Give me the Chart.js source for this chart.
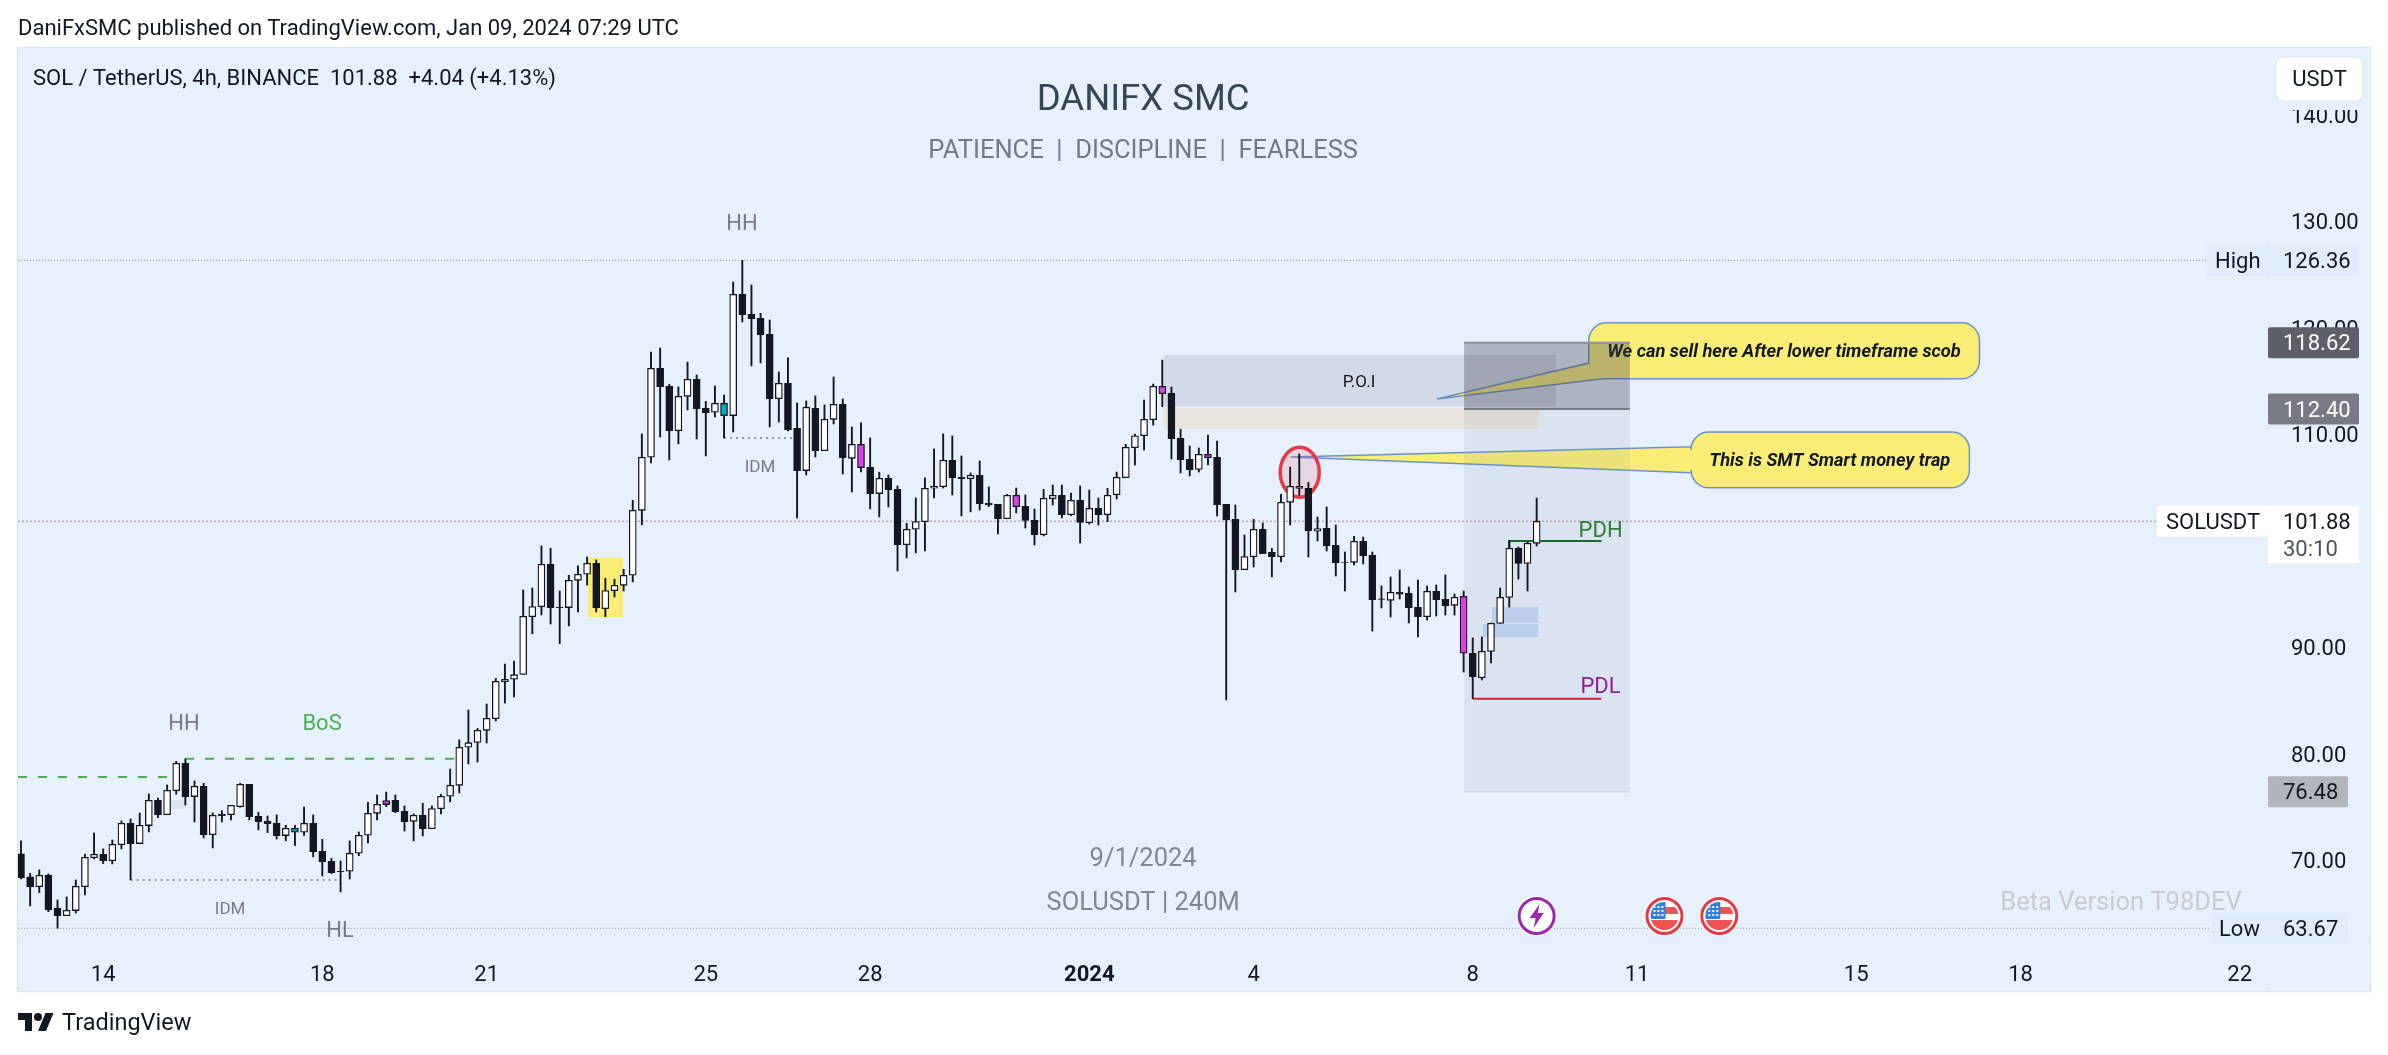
<!DOCTYPE html>
<html><head><meta charset="utf-8">
<script src="https://cdn.jsdelivr.net/npm/chart.js@4"></script>
<style>
html,body{margin:0;padding:0;background:#fff;width:2388px;height:1055px;overflow:hidden;font-family:Roboto,sans-serif;color:#131722}
canvas{position:absolute;left:0;top:0}
.t{position:absolute;white-space:pre;line-height:1}
</style></head><body>
<canvas id="c" width="2388" height="1055"></canvas>
<div class="t" style="left:18px;top:17px;font-size:22px">DaniFxSMC published on TradingView.com, Jan 09, 2024 07:29 UTC</div>
<svg style="position:absolute;left:18px;top:1009px" width="36" height="28" viewBox="0 0 36 28"><path fill="#131722" d="M14 22H7V11H0V4h14v18zM28 22h-8l7.5-18h8L28 22z"/><circle fill="#131722" cx="20" cy="8" r="4"/></svg>
<div class="t" style="left:62px;top:1011px;font-size:23.5px">TradingView</div>
<script>
const opens=[70.65,68.49,67.58,68.67,65.55,64.86,65.33,67.58,70.30,70.62,70.02,71.52,73.52,71.62,73.31,75.68,74.34,76.59,79.15,76.03,77.00,72.46,74.40,74.34,75.09,77.18,74.18,73.71,73.52,72.37,72.68,72.68,73.52,70.90,69.96,69.02,69.02,70.71,72.40,74.46,75.28,75.68,74.65,73.71,74.27,73.02,74.90,76.06,77.09,80.66,81.12,82.25,83.35,86.81,87.04,87.50,92.92,93.86,97.83,93.80,
93.77,96.33,96.90,97.93,93.67,95.36,95.86,96.80,102.90,107.88,116.23,114.54,110.38,113.60,115.19,112.47,112.10,111.79,111.79,123.17,121.29,120.92,119.42,113.38,114.82,110.60,106.63,112.47,108.50,111.44,112.85,107.78,109.09,106.94,104.47,105.91,104.87,99.68,101.12,101.84,104.97,105.12,107.59,106.00,105.87,106.18,103.55,103.46,102.11,104.30,103.27,101.96,100.61,103.99,104.30,102.49,103.83,101.74,103.08,102.49,104.37,105.96,108.77,109.90,111.40,114.53,113.88,109.65,107.68,106.74,108.15,107.87,103.46,102.05,97.33,98.55,101.11,98.95,98.55,103.65,105.15,104.96,100.93,101.21,99.61,98.05,98.02,99.99,98.67,94.58,94.45,95.20,95.11,93.79,92.92,95.29,94.54,93.98,94.83,89.48,87.19,89.66,92.29,94.73,99.33,97.92,99.80];
const highs=[71.87,68.83,69.15,68.77,66.33,66.61,68.21,70.62,72.62,71.12,71.96,73.74,73.93,74.49,76.28,75.90,77.12,79.34,79.56,77.50,77.28,74.49,74.71,75.21,77.28,77.18,74.56,74.21,74.31,73.34,73.34,75.06,74.31,72.02,70.24,69.99,71.87,72.71,75.49,76.18,76.46,76.18,75.15,74.40,75.40,75.15,76.25,78.62,81.35,84.16,82.44,84.72,87.13,88.47,88.75,95.42,95.61,99.55,99.34,95.33,
96.80,97.68,98.52,98.24,96.52,96.43,97.37,103.84,110.07,117.76,118.14,114.73,114.48,116.82,115.60,113.13,114.57,113.72,124.33,126.36,124.05,121.39,120.76,115.88,117.20,112.97,113.16,113.63,112.79,115.41,113.35,110.72,111.10,109.69,106.47,106.22,105.19,101.68,104.06,105.94,108.66,110.07,109.88,108.00,106.40,107.53,105.09,103.46,104.40,104.99,104.34,103.02,104.87,105.27,105.27,104.52,105.18,104.80,104.05,104.96,106.49,109.09,110.05,113.25,114.75,117.00,114.47,110.50,108.93,108.75,109.97,109.40,103.46,103.40,100.58,102.05,101.71,99.33,104.40,106.96,108.18,105.52,102.27,103.21,101.52,98.99,100.46,100.39,98.99,95.80,96.64,97.30,95.70,96.36,95.80,95.89,96.83,95.04,95.33,90.92,91.01,92.32,95.61,100.08,99.46,99.92,104.05];
const lows=[68.30,65.77,67.02,65.23,63.67,64.86,65.11,66.80,70.18,69.74,69.71,71.12,68.21,71.62,72.71,74.06,74.34,76.25,75.24,73.65,72.15,71.21,73.65,73.84,75.03,73.84,72.90,72.65,72.05,71.87,71.43,72.37,70.37,68.58,68.80,67.08,68.30,70.49,71.68,73.84,75.09,74.52,72.80,71.87,72.34,73.02,74.40,75.53,76.37,79.09,79.28,81.06,83.13,84.81,85.38,87.50,91.32,93.08,92.23,90.38,
92.05,93.36,95.89,93.36,92.92,94.77,95.33,96.18,101.53,107.34,109.78,107.63,109.13,112.32,109.60,108.00,111.66,109.69,110.25,120.58,116.45,116.73,110.72,111.19,110.35,102.18,106.22,107.91,108.50,111.00,106.31,104.62,106.50,103.03,102.28,103.21,97.21,98.43,98.90,99.09,104.06,104.99,104.34,102.37,102.75,102.93,103.24,100.68,102.11,102.65,101.24,99.64,100.49,103.40,102.18,102.40,99.83,101.61,101.52,101.83,103.96,105.96,107.15,108.56,110.90,112.62,107.71,106.40,106.12,106.49,107.15,102.36,85.10,95.23,97.33,97.58,98.83,96.64,98.05,101.52,104.30,98.52,100.02,99.08,96.73,95.33,97.77,97.86,91.57,93.73,92.89,94.58,92.32,91.01,92.60,92.98,93.07,93.07,87.72,85.22,86.97,88.57,92.29,93.82,96.45,95.33,99.55];
const closes=[68.39,67.55,68.64,65.39,64.86,65.36,67.61,70.33,70.62,70.02,71.55,73.52,71.62,73.34,75.68,74.34,76.62,79.15,76.03,77.00,72.46,74.27,74.24,75.21,77.18,74.15,73.68,73.49,72.37,73.06,73.06,73.52,70.87,69.93,68.90,68.99,70.71,72.40,74.46,75.31,75.65,74.62,73.68,74.27,73.02,74.90,76.06,77.09,80.66,81.09,82.25,83.38,86.85,87.04,87.47,92.95,93.86,97.83,93.77,93.77,
96.33,96.90,97.93,93.77,95.36,95.86,96.80,102.90,107.88,116.23,114.51,110.38,113.60,115.19,112.44,112.07,112.94,112.94,123.17,121.26,120.89,119.36,113.38,114.82,110.44,106.63,112.57,108.50,111.44,112.85,107.84,109.09,106.91,104.47,105.91,104.84,99.68,101.12,101.84,104.97,105.15,107.59,105.97,105.87,106.19,103.52,103.40,102.11,104.30,103.24,101.96,100.61,104.02,104.30,102.49,103.83,101.77,103.08,102.49,104.30,105.99,108.81,109.90,111.44,114.53,113.84,109.62,107.65,106.71,108.15,107.84,103.43,101.99,97.33,98.55,101.11,98.83,98.55,103.65,105.15,104.96,100.99,101.18,99.58,97.99,98.02,99.99,98.64,94.51,94.54,95.20,95.04,93.76,92.92,95.29,94.51,93.95,94.73,89.48,87.29,89.66,92.29,94.73,99.33,97.92,99.80,101.88];
const magentaBars=[40,92,109,125,130,140,158];
const tealBars=[30,77];
const timeTickIndex=[9,33,51,75,93,117,135,159,177,201,219,243];
const timeTickLabels=['14','18','21','25','28','2024','4','8','11','15','18','22'];
const priceTicks=[70,80,90,100,110,120,130,140];
const priceMarks={high:126.36,low:63.67,last:101.88,target:118.62,entry:112.40,stop:76.48};
const eventBars=[166,180,186];
const FONT='Roboto, sans-serif';
const DARK='#131722';
const idx=opens.map((_,i)=>i);

const rects=[
 {a:62.1,b:65.94,p:98.45,q:92.88,c:'#f9ed76'},
 {a:16.32,b:17.96,p:75.71,q:74.86,c:'#dbe5f0'},
 {a:125.2,b:168.1,p:117.47,q:112.62,c:'rgba(120,123,134,0.19)'},
 {a:125.1,b:166.2,p:112.50,q:110.53,c:'rgba(255,160,40,0.15)'},
 {a:161.1,b:166.2,p:93.82,q:92.32,c:'rgba(66,120,240,0.2)'},
 {a:160.1,b:166.2,p:92.23,q:91.01,c:'rgba(66,120,240,0.2)'}
];
const labels=[
 {i:17.85,p:82.94,t:'HH',c:'#787b86',s:22},
 {i:32.97,p:82.94,t:'BoS',c:'#4caf50',s:22},
 {i:22.9,p:65.57,t:'IDM',c:'#787b86',s:17},
 {i:34.94,p:63.60,t:'HL',c:'#787b86',s:22},
 {i:78.97,p:129.95,t:'HH',c:'#787b86',s:22},
 {i:80.94,p:107.06,t:'IDM',c:'#787b86',s:17},
 {i:146.55,p:115.06,t:'P.O.I',c:'#131722',s:17},
 {i:173.0,p:101.14,t:'PDH',c:'#2e7d32',s:22},
 {i:173.0,p:86.44,t:'PDL',c:'#8e1f8e',s:22}
];

function rr(ctx,x,y,w,h,r){ctx.beginPath();ctx.moveTo(x+r,y);ctx.lineTo(x+w-r,y);ctx.arcTo(x+w,y,x+w,y+r,r);ctx.lineTo(x+w,y+h-r);ctx.arcTo(x+w,y+h,x+w-r,y+h,r);ctx.lineTo(x+r,y+h);ctx.arcTo(x,y+h,x,y+h-r,r);ctx.lineTo(x,y+r);ctx.arcTo(x,y,x+r,y,r);ctx.closePath();}
function txt(ctx,t,x,y,font,color,align){ctx.font=font;ctx.fillStyle=color;ctx.textAlign=align||'center';ctx.textBaseline='middle';ctx.fillText(t,x,y+2);}
function hline(ctx,X,Y,a,b,p,color,w,dash){ctx.save();ctx.strokeStyle=color;ctx.lineWidth=w;ctx.setLineDash(dash||[]);ctx.beginPath();const y=Y(p);ctx.moveTo(X(a),y);ctx.lineTo(X(b),y);ctx.stroke();ctx.restore();}

let tickNudged=false;
const tvPlugin={
 id:'tv',
 beforeDraw(chart){
  const c=chart.ctx,a=chart.chartArea;
  if(!tickNudged){chart.scales.y.getLabelItems(a).forEach(it=>{it.options.translation[1]+=2;});tickNudged=true;}
  c.save();
  c.fillStyle='#e7f1fe';c.fillRect(18,48,2352,943);
  c.strokeStyle='#e0e6ef';c.lineWidth=1.5;c.strokeRect(17.5,47.5,2353,944);
  c.strokeStyle='#e1ecf9';c.lineWidth=1;
  c.beginPath();c.moveTo(a.right+.5,48);c.lineTo(a.right+.5,991);c.moveTo(18,a.bottom+.5);c.lineTo(2370,a.bottom+.5);c.stroke();
  c.restore();
 },
 beforeDatasetsDraw(chart){
  const c=chart.ctx,xs=chart.scales.x,ys=chart.scales.y;
  const X=v=>xs.getPixelForValue(v),Y=v=>ys.getPixelForValue(v);
  c.save();
  rects.forEach(r=>{c.fillStyle=r.c;c.fillRect(X(r.a),Y(r.p),X(r.b)-X(r.a),Y(r.q)-Y(r.p));});
  // watermark texts
  txt(c,'DANIFX SMC',X(122.9),99,'36.5px '+FONT,'#374558');
  txt(c,'PATIENCE  |  DISCIPLINE  |  FEARLESS',X(122.9),150,'25.5px '+FONT,'#6e7b8d');
  txt(c,'9/1/2024',X(122.9),858,'25.5px '+FONT,'#7d8896');
  txt(c,'SOLUSDT | 240M',X(122.9),902,'25.5px '+FONT,'#7d8896');
  txt(c,'Beta Version T98DEV',2121,902,'25.5px '+FONT,'#c8ccd2');
  txt(c,'SOL / TetherUS, 4h, BINANCE  101.88  +4.04 (+4.13%)',33,77,'22px '+FONT,DARK,'left');

  // callouts
  c.fillStyle='#f9ed76';c.strokeStyle='#6b93c9';c.lineWidth=1.5;
  const callout=(l,t,r,b,draw)=>{const R=18;c.beginPath();c.moveTo(l+R,t);c.lineTo(r-R,t);c.arcTo(r,t,r,t+R,R);c.lineTo(r,b-R);c.arcTo(r,b,r-R,b,R);draw(l,t,r,b,R);c.closePath();c.fill();c.stroke();};
  callout(X(171.7),Y(120.50),X(214.5),Y(115.25),(l,t,r,b,R)=>{
    c.lineTo(X(173.2),b);c.lineTo(X(155.06),Y(113.34));c.lineTo(l,Y(116.72));c.lineTo(l,t+R);c.arcTo(l,t,l+R,t,R);});
  callout(X(182.9),Y(110.25),X(213.4),Y(105.02),(l,t,r,b,R)=>{
    c.lineTo(l+R,b);c.arcTo(l,b,l,b-R,R);c.lineTo(l,Y(106.43));c.lineTo(X(139.07),Y(107.9));c.lineTo(l,Y(108.87));c.lineTo(l,t+R);c.arcTo(l,t,l+R,t,R);});
  txt(c,'We can sell here After lower timeframe scob',X(193.1),Y(117.95),'italic bold 18.3px '+FONT,DARK);
  txt(c,'This is SMT Smart money trap',X(198.1),Y(107.7),'italic bold 18.2px '+FONT,DARK);

  // position tool
  const l=X(158.05),w=X(176.2)-l;
  c.fillStyle='rgba(67,70,81,0.35)';c.fillRect(l,Y(priceMarks.target),w,Y(priceMarks.entry)-Y(priceMarks.target));
  c.fillStyle='rgba(120,123,134,0.11)';c.fillRect(l,Y(priceMarks.entry),w,Y(priceMarks.stop)-Y(priceMarks.entry));
  hline(c,X,Y,158.05,176.2,priceMarks.target,'#8d919c',2);
  hline(c,X,Y,158.05,176.2,priceMarks.entry,'#787b86',2);
  hline(c,X,Y,158.05,176.2,priceMarks.stop,'#d0d8e4',1.5);

  // ellipse
  c.beginPath();c.ellipse(X(140.05),Y(106.47),19.5,25,0,0,Math.PI*2);c.fillStyle='rgba(242,54,69,0.15)';c.fill();c.strokeStyle='#e63946';c.lineWidth=3.5;c.stroke();

  // price lines
  hline(c,X,Y,-0.33,240.4,priceMarks.high,'#8a8f9e',1,[1,2]);
  hline(c,X,Y,-0.33,240.0,priceMarks.low,'#8a8f9e',1,[1,2]);
  hline(c,X,Y,-0.33,234.1,priceMarks.last,'#b07fa0',1,[2,2]);

  // structure
  hline(c,X,Y,-0.33,16.1,77.87,'#4caf50',2,[9,11]);
  hline(c,X,Y,17.96,47.5,79.59,'#4caf50',2,[9,11]);
  hline(c,X,Y,12,35,68.21,'#9598a1',2,[2,4]);
  hline(c,X,Y,77,84.5,109.69,'#9598a1',2,[2,4]);
  hline(c,X,Y,163,173.1,100.02,'#1b6b2e',2);
  c.strokeStyle='#1b6b2e';c.lineWidth=2;c.beginPath();c.moveTo(X(163),Y(100.02));c.lineTo(X(163),Y(99.33));c.stroke();
  hline(c,X,Y,159,173.1,85.22,'#c2283e',2);
  labels.forEach(t=>txt(c,t.t,X(t.i),Y(t.p),t.s+'px '+FONT,t.c));
  c.restore();
 },
 afterDraw(chart){
  const c=chart.ctx,xs=chart.scales.x,ys=chart.scales.y;
  const X=v=>xs.getPixelForValue(v),Y=v=>ys.getPixelForValue(v);
  c.save();
  const F='22px '+FONT,ax=2268,tx=2283;
  const box=(p,x0,x1,col,h)=>{const y=Y(p);c.fillStyle=col;rr(c,x0,y-15.5,x1-x0,h||31,2);c.fill();};
  // High
  box(priceMarks.high,2206,2359,'#e1edfc');
  txt(c,'High',2215,Y(priceMarks.high),F,DARK,'left');
  txt(c,priceMarks.high.toFixed(2),tx,Y(priceMarks.high),F,DARK,'left');
  // target, entry
  box(priceMarks.target,ax,2359,'#5d606b');
  txt(c,priceMarks.target.toFixed(2),tx,Y(priceMarks.target),F,'#fff','left');
  box(priceMarks.entry,ax,2359,'#787b86');
  txt(c,priceMarks.entry.toFixed(2),tx,Y(priceMarks.entry),F,'#fff','left');
  // last
  box(priceMarks.last,2157,2359,'#ffffff');
  c.fillStyle='#fff';c.fillRect(ax,Y(priceMarks.last),2359-ax,42);
  txt(c,'SOLUSDT',2166,Y(priceMarks.last),F,DARK,'left');
  txt(c,priceMarks.last.toFixed(2),tx,Y(priceMarks.last),F,DARK,'left');
  txt(c,'30:10',tx,Y(priceMarks.last)+27,F,'#50535e','left');
  // stop
  box(priceMarks.stop,ax,2348,'#b2b5be');
  txt(c,priceMarks.stop.toFixed(2),tx,Y(priceMarks.stop),F,DARK,'left');
  // Low
  box(priceMarks.low,2211,2348,'#e1edfc');
  txt(c,'Low',2219,Y(priceMarks.low),F,DARK,'left');
  txt(c,priceMarks.low.toFixed(2),tx,Y(priceMarks.low),F,DARK,'left');
  // USDT button with its pane-coloured surround
  c.fillStyle='#e7f1fe';c.fillRect(2269,49,100.5,61);
  c.fillStyle='#fff';rr(c,2276,57,87,44,8);c.fill();
  c.strokeStyle='#e0e6ef';c.lineWidth=1;c.stroke();
  txt(c,'USDT',2319.5,78,F,DARK);
  // events
  const ey=Y(64.82);
  const ring=(x,col)=>{c.beginPath();c.arc(x,ey,20,0,Math.PI*2);c.fillStyle='#fff';c.fill();c.beginPath();c.arc(x,ey,17.5,0,Math.PI*2);c.strokeStyle=col;c.lineWidth=3;c.stroke();};
  eventBars.forEach((b,k)=>{
    const x=X(b);
    if(k===0){
      ring(x,'#9c27b0');
      c.fillStyle='#9c27b0';c.beginPath();c.moveTo(x+3,ey-12);c.lineTo(x-7,ey+2);c.lineTo(x-1,ey+2);c.lineTo(x-3,ey+12);c.lineTo(x+7,ey-3);c.lineTo(x+1,ey-3);c.closePath();c.fill();
    }else{
      ring(x,'#e53945');
      c.save();c.beginPath();c.arc(x,ey,14,0,Math.PI*2);c.clip();
      c.fillStyle='#fff';c.fillRect(x-14,ey-14,28,28);
      c.fillStyle='#ef5350';c.fillRect(x,ey-9,14,7);c.fillRect(x-14,ey+4,28,10);
      c.fillStyle='#2f80e0';c.fillRect(x-14,ey-14,15,17);
      c.fillStyle='#fff';for(let r=0;r<3;r++)for(let q=0;q<3;q++){c.fillRect(x-11+q*4,ey-10+r*4,2,2);}
      c.restore();
    }
  });
  c.restore();
 }
};

new Chart(document.getElementById('c'),{
 type:'bar',
 data:{datasets:[
  {label:'wick',order:2,grouped:false,barThickness:1.25,backgroundColor:DARK,borderWidth:0,
   data:idx.map(i=>({x:i,y:[lows[i],highs[i]]}))},
  {label:'body',order:1,grouped:false,barThickness:7,borderColor:DARK,borderWidth:1.3,borderSkipped:false,
   backgroundColor:idx.map(i=>magentaBars.includes(i)?'#dd3ee6':tealBars.includes(i)?'#00acc1':closes[i]>=opens[i]&&closes[i]-opens[i]>0.05?'#ffffff':DARK),
   data:idx.map(i=>({x:i,y:[Math.min(opens[i],closes[i]),Math.max(opens[i],closes[i])]}))}
 ]},
 options:{
  responsive:false,animation:false,maintainAspectRatio:false,devicePixelRatio:1,
  layout:{padding:{left:18,right:18,top:48,bottom:64}},
  plugins:{legend:{display:false},tooltip:{enabled:false},title:{display:false}},
  scales:{
   x:{type:'linear',offset:false,min:-0.33,max:246.1,position:'bottom',
    grid:{display:false},border:{display:false},
    afterBuildTicks:s=>{s.ticks=timeTickIndex.map(v=>({value:v}));},
    afterFit:s=>{s.height=51;},
    ticks:{autoSkip:false,maxRotation:0,padding:14,color:DARK,
      font:ctx=>({family:FONT,size:22,weight:timeTickLabels[ctx.index]==='2024'?'bold':'normal'}),
      callback:(v)=>timeTickLabels[timeTickIndex.indexOf(v)]}},
   y:{type:'linear',position:'right',min:62.57,max:146.29,
    grid:{display:false},border:{display:false},
    afterBuildTicks:s=>{s.ticks=priceTicks.map(v=>({value:v}));},
    afterFit:s=>{s.width=102;},
    ticks:{crossAlign:'near',padding:15,color:DARK,font:{family:FONT,size:22},callback:v=>Number(v).toFixed(2)}}
  }
 },
 plugins:[tvPlugin]
});
</script>
</body></html>
